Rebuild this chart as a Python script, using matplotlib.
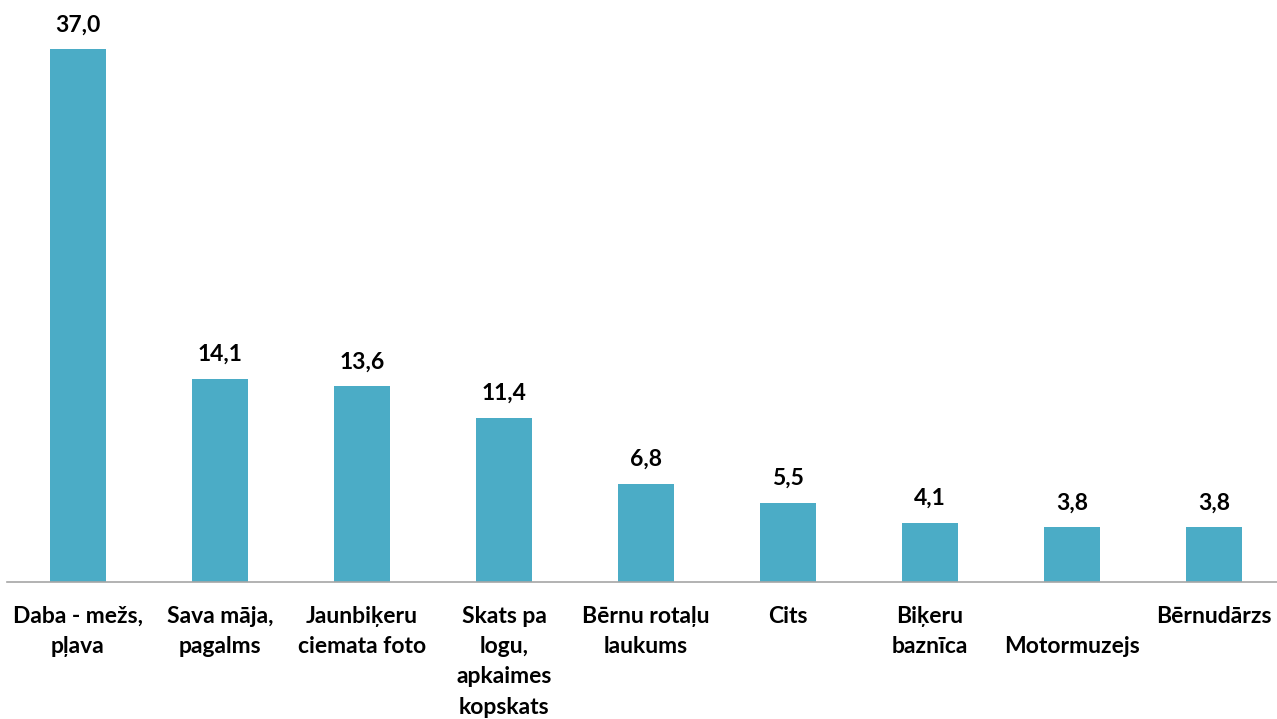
import matplotlib
matplotlib.use("Agg")
import matplotlib.pyplot as plt

categories = ["Daba - mežs,\npļava", "Sava māja,\npagalms", "Jaunbiķeru\nciemata foto",
              "Skats pa\nlogu,\napkaimes\nkopskats", "Bērnu rotaļu\nlaukums", "Cits",
              "Biķeru\nbaznīca", "\nMotormuzejs", "Bērnudārzs"]
values = [37.0, 14.1, 13.6, 11.4, 6.8, 5.5, 4.1, 3.8, 3.8]
value_labels = ["37,0", "14,1", "13,6", "11,4", "6,8", "5,5", "4,1", "3,8", "3,8"]

plt.rcParams['font.family'] = ['Lato', 'DejaVu Sans']

fig = plt.figure(figsize=(12.77, 7.19), dpi=100)
ax = fig.add_axes([7/1277, (719-582)/719, 1278/1277, 582/719])
x = list(range(len(values)))
bars = ax.bar(x, values, width=0.4, color="#4BACC6", zorder=2)
ax.set_xlim(-0.5, len(values) - 0.5)
ax.set_ylim(0, 582/14.4)
for xi, v, lab in zip(x, values, value_labels):
    ax.annotate(lab, (xi, v), xytext=(0, 10), textcoords="offset points",
                ha="center", va="bottom", fontsize=16.5, fontweight="bold", color="#000000")
ax.set_xticks(x)
ax.set_xticklabels(categories, fontsize=16.5, fontweight="bold", linespacing=1.55, va="top")
ax.tick_params(axis="x", length=0, pad=17)
ax.set_yticks([])
for s in ["top", "right", "left"]:
    ax.spines[s].set_visible(False)
ax.spines["bottom"].set_color("#a6a6a6")
ax.spines["bottom"].set_linewidth(1.2)
fig.savefig("out.png", dpi=100)
